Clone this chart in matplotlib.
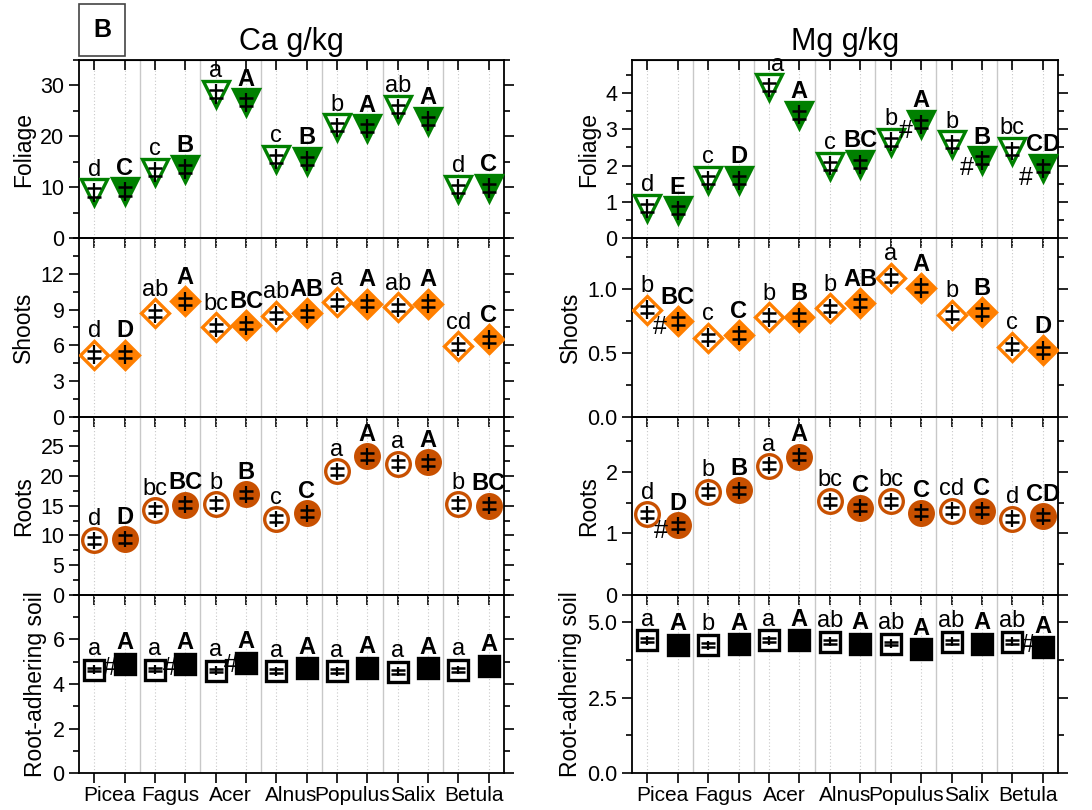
import numpy as np
import matplotlib.pyplot as plt
from matplotlib.ticker import MultipleLocator, FixedLocator

plt.rcParams['font.family'] = ['Liberation Sans', 'DejaVu Sans']

species = ["Picea", "Fagus", "Acer", "Alnus", "Populus", "Salix", "Betula"]
row_names = ["Foliage", "Shoots", "Roots", "Root-adhering soil"]

# values per species as pairs: (open, filled)
ca_foliage = [9.0, 9.2, 13.0, 13.6, 28.3, 26.7, 15.6, 15.2, 21.8, 21.6, 25.4, 23.0, 9.7, 9.9]
ca_foliage_let = ["d", "C", "c", "B", "a", "A", "c", "B", "b", "A", "ab", "A", "d", "C"]

ca_shoots = [5.2, 5.2, 8.7, 9.7, 7.5, 7.7, 8.5, 8.7, 9.6, 9.5, 9.2, 9.5, 5.9, 6.5]
ca_shoots_let = ["d", "D", "ab", "A", "bc", "BC", "ab", "AB", "a", "A", "ab", "A", "cd", "C"]

ca_roots = [9.2, 9.4, 14.3, 15.2, 15.3, 16.9, 12.8, 13.7, 20.8, 23.3, 22.1, 22.3, 15.3, 15.0]
ca_roots_let = ["d", "D", "bc", "BC", "b", "B", "c", "C", "a", "A", "a", "A", "b", "BC"]

ca_soil = [4.65, 4.9, 4.65, 4.9, 4.6, 4.95, 4.58, 4.7, 4.58, 4.72, 4.55, 4.7, 4.63, 4.81]
ca_soil_let = ["a", "A"] * 7

mg_foliage = [0.83, 0.77, 1.6, 1.6, 4.15, 3.4, 2.0, 2.04, 2.65, 3.14, 2.58, 2.14, 2.4, 1.93]
mg_foliage_let = ["d", "E", "c", "D", "a", "A", "c", "BC", "b", "A", "b", "B", "bc", "CD"]

mg_shoots = [0.84, 0.75, 0.62, 0.64, 0.78, 0.78, 0.85, 0.89, 1.09, 1.01, 0.80, 0.82, 0.55, 0.52]
mg_shoots_let = ["b", "BC", "c", "C", "b", "B", "b", "AB", "a", "A", "b", "B", "c", "D"]

mg_roots = [1.31, 1.13, 1.68, 1.70, 2.10, 2.25, 1.52, 1.42, 1.52, 1.34, 1.37, 1.37, 1.24, 1.28]
mg_roots_let = ["d", "D", "b", "B", "a", "A", "bc", "C", "bc", "C", "cd", "C", "d", "CD"]

mg_soil = [4.40, 4.24, 4.24, 4.27, 4.40, 4.40, 4.35, 4.29, 4.29, 4.10, 4.35, 4.29, 4.35, 4.16]
mg_soil_let = ["a", "A", "b", "A", "a", "A", "ab", "A", "ab", "A", "ab", "A", "ab", "A"]

# error bars per row (foliage, shoots, roots, soil): cap half-gap and whisker half-length
ca_se = [0.8, 0.3, 0.6, 0.08]
ca_sd = [1.9, 0.8, 1.4, 0.2]
mg_se = [0.11, 0.03, 0.06, 0.06]
mg_sd = [0.26, 0.075, 0.14, 0.15]

# '#' marks: (column, row, x, y)
hash_marks = [(0, 3, 1.5, 4.7), (0, 3, 3.5, 4.7), (0, 3, 5.5, 4.85),
              (1, 0, 9.5, 2.95), (1, 0, 11.5, 1.93), (1, 0, 13.45, 1.65),
              (1, 1, 1.4, 0.70), (1, 2, 1.45, 1.04), (1, 3, 13.5, 4.24)]

green = "#008000"
orange = "#ff7f00"
brown = "#c85000"

row_style = [("v", 19, green, 12), ("D", 14.5, orange, 12.5), ("o", 17, brown, 11), ("s", 14, "black", 10.5)]

cols = [
    [(ca_foliage, ca_foliage_let, 35, 10, 5),
     (ca_shoots, ca_shoots_let, 15, 3, 1.5),
     (ca_roots, ca_roots_let, 30, 5, 2.5),
     (ca_soil, ca_soil_let, 8, 2, 1)],
    [(mg_foliage, mg_foliage_let, 4.9, 1, 0.5),
     (mg_shoots, mg_shoots_let, 1.4, 0.5, 0.25),
     (mg_roots, mg_roots_let, 2.9, 1, 0.5),
     (mg_soil, mg_soil_let, 5.9, 2.5, 1.25)],
]
errs_se = [ca_se, mg_se]
errs_sd = [ca_sd, mg_sd]
titles = ["Ca g/kg", "Mg g/kg"]
fmts = [["%d"] * 4, ["%d", "%.1f", "%d", "%.1f"]]

fig = plt.figure(figsize=(10.92, 8.10), dpi=100)
W, H = 1092, 810
lefts = [79, 632]
widths = [425, 426]
top0, ph = 60, 178.3

x = np.arange(1, 15)
axes = {}
for c in range(2):
    for r in range(4):
        vals, lets, ymax, major, minor = cols[c][r]
        ax = fig.add_axes([lefts[c] / W, 1 - (top0 + ph * (r + 1)) / H, widths[c] / W, ph / H])
        ax.patch.set_visible(False)
        axes[(c, r)] = ax
        marker, ms, color, off = row_style[r]

        for g in range(1, 7):
            ax.axvline(2 * g + 0.5, color="#c8c8c8", lw=1.0, zorder=0)
        for xi in x:
            ax.axvline(xi, color="#c8c8c8", lw=0.8, ls=(0, (1, 2)), zorder=0)

        for i in range(14):
            filled = i % 2 == 1
            ax.plot(x[i], vals[i], marker=marker, ms=ms, ls="none",
                    mfc=color if filled else "white", mec=color, mew=2.4, zorder=3)
            dx = 6 if (c == 1 and r == 0 and i == 4) else 0
            ax.annotate(lets[i], (x[i], vals[i]), xytext=(dx, off), textcoords="offset points",
                        ha="center", va="baseline", fontsize=17,
                        fontweight="bold" if filled else "normal", zorder=5)
        se = errs_se[c][r]
        sd = errs_sd[c][r]
        ax.errorbar(x, vals, yerr=sd, fmt="none", ecolor="black", elinewidth=1.6,
                    capsize=0, zorder=4)
        ax.errorbar(x, vals, yerr=se, fmt="none", ecolor="black", elinewidth=0,
                    capsize=5, capthick=1.8, zorder=4)

        ax.set_xlim(0.5, 14.5)
        ax.set_ylim(0, ymax)
        ax.yaxis.set_major_locator(FixedLocator(np.arange(0, ymax - 1e-6, major)))
        ax.yaxis.set_minor_locator(MultipleLocator(minor))
        ax.yaxis.set_major_formatter(plt.FormatStrFormatter(fmts[c][r]))
        ax.tick_params(axis="y", which="both", direction="out", left=True, right=True,
                       labelsize=15.5, width=1.2)
        ax.tick_params(axis="y", which="major", length=7)
        ax.tick_params(axis="y", which="minor", length=4)
        ax.set_xticks(x)
        ax.tick_params(axis="x", which="major", direction="out", length=7, width=1.2,
                       labelbottom=False)
        for s in ax.spines.values():
            s.set_linewidth(1.3)
        ax.set_ylabel(row_names[r], fontsize=16.5)
        if r == 0:
            sec = ax.secondary_xaxis("top")
            sec.set_xticks(x)
            sec.tick_params(direction="in", length=7, width=1.2, labeltop=False)
            ax.set_title(titles[c], fontsize=22, pad=7)
        if r == 3:
            ax.set_xticks(np.arange(1.5, 14, 2), minor=True)
            ax.set_xticklabels(species, minor=True, fontsize=15)
            ax.tick_params(axis="x", which="minor", length=0, pad=9)

for c, r, hx, hy in hash_marks:
    axes[(c, r)].text(hx, hy, "#", fontsize=18, ha="center", va="center", zorder=6)

fig.text(102 / W, 1 - 30 / H, "B", fontsize=18, fontweight="bold", ha="center", va="center",
         bbox=dict(boxstyle="square,pad=0.55", fc="white", ec="#444444", lw=1.2))

fig.savefig("out.png", dpi=100)
